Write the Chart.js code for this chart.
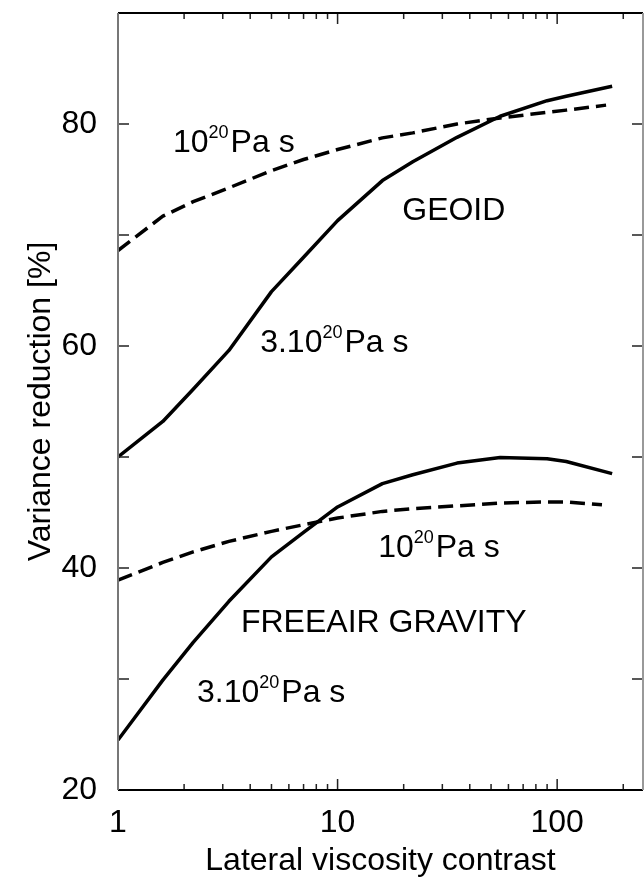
<!DOCTYPE html>
<html lang="en">
<head>
<meta charset="UTF-8" />
<title>Variance reduction vs lateral viscosity contrast</title>
<script src="https://cdn.jsdelivr.net/npm/chart.js"></script>
<style>
  html, body { margin: 0; padding: 0; background: #fff; }
  canvas { display: block; }
</style>
</head>
<body>
<canvas id="vrChart" width="644" height="877"></canvas>
<script>
// lateral viscosity contrast (x) and variance reduction in % (y), per model
const geoidStiffX = [1, 1.6, 2.2, 3.2, 5, 7, 10, 16, 22, 35, 55, 90, 110, 178];
const geoidStiffY = [50, 53.2, 56.1, 59.6, 64.9, 68.0, 71.3, 74.9, 76.6, 78.8, 80.7, 82.1, 82.5, 83.4];
const geoidSoftX = [1, 1.6, 2.2, 3.2, 5, 7, 10, 16, 22, 35, 55, 90, 110, 167];
const geoidSoftY = [68.6, 71.7, 73.0, 74.25, 75.8, 76.8, 77.7, 78.75, 79.2, 80.0, 80.55, 81.05, 81.25, 81.7];
const gravStiffX = [1, 1.6, 2.2, 3.2, 5, 7, 10, 16, 22, 35, 55, 90, 110, 178];
const gravStiffY = [24.5, 29.9, 33.3, 37.0, 41.0, 43.2, 45.5, 47.6, 48.4, 49.45, 49.95, 49.85, 49.6, 48.5];
const gravSoftX = [1, 1.6, 2.2, 3.2, 5, 7, 10, 16, 22, 35, 55, 90, 110, 160];
const gravSoftY = [38.9, 40.5, 41.45, 42.4, 43.3, 43.9, 44.5, 45.1, 45.35, 45.6, 45.85, 45.95, 45.95, 45.7];

const xTickValues = [1, 2, 3, 4, 5, 6, 7, 8, 9, 10, 20, 30, 40, 50, 60, 70, 80, 90, 100, 200];
const xTickLabels = [1, 10, 100];
const yTickLabels = [20, 40, 60, 80];

// text placed inside the plot, anchored in data units (left edge, baseline)
const notes = [
  { pre: "10", sup: "20", post: "Pa s", x: 1.78, y: 77.5 },
  { pre: "GEOID", x: 19.7, y: 71.35 },
  { pre: "3.10", sup: "20", post: "Pa s", x: 4.44, y: 59.46 },
  { pre: "10", sup: "20", post: "Pa s", x: 15.3, y: 41.0 },
  { pre: "FREEAIR GRAVITY", x: 3.63, y: 34.23 },
  { pre: "3.10", sup: "20", post: "Pa s", x: 2.29, y: 27.93 }
];

const FONT = '"Liberation Sans", Arial, Helvetica, sans-serif';
Chart.defaults.color = "#000";
Chart.defaults.font.family = FONT;

function pts(xs, ys) {
  return xs.map((x, i) => ({ x: x, y: ys[i] }));
}

function line(xs, ys, dashed) {
  return {
    data: pts(xs, ys),
    borderColor: "#000",
    borderWidth: 3.5,
    borderDash: dashed ? [15, 7] : [],
    borderJoinStyle: "round",
    pointRadius: 0,
    tension: 0,
    fill: false
  };
}

// frame, inward tick marks on all four sides, and the in-plot text
const framePlugin = {
  id: "frame",
  afterDraw(chart) {
    const ctx = chart.ctx;
    const a = chart.chartArea;
    const xs = chart.scales.x;
    const ys = chart.scales.y;
    ctx.save();

    ctx.strokeStyle = "#222";
    ctx.lineWidth = 1.5;
    xTickValues.forEach(v => {
      const px = xs.getPixelForValue(v);
      const len = xTickLabels.includes(v) ? 11 : 6;
      ctx.beginPath();
      ctx.moveTo(px, a.bottom); ctx.lineTo(px, a.bottom - len);
      ctx.moveTo(px, a.top); ctx.lineTo(px, a.top + len);
      ctx.stroke();
    });
    ys.ticks.forEach(t => {
      const py = ys.getPixelForValue(t.value);
      ctx.beginPath();
      ctx.moveTo(a.left, py); ctx.lineTo(a.left + 11, py);
      ctx.moveTo(a.right, py); ctx.lineTo(a.right - 11, py);
      ctx.stroke();
    });

    ctx.lineWidth = 2;
    ctx.strokeStyle = "#000";
    ctx.beginPath();
    ctx.moveTo(a.left, a.top); ctx.lineTo(a.right, a.top);
    ctx.moveTo(a.left, a.bottom); ctx.lineTo(a.right, a.bottom);
    ctx.stroke();
    ctx.strokeStyle = "#777";
    ctx.beginPath();
    ctx.moveTo(a.left, a.top); ctx.lineTo(a.left, a.bottom);
    ctx.stroke();
    ctx.strokeStyle = "#999";
    ctx.beginPath();
    ctx.moveTo(a.right, a.top); ctx.lineTo(a.right, a.bottom);
    ctx.stroke();

    ctx.fillStyle = "#000";
    ctx.textBaseline = "alphabetic";
    ctx.textAlign = "left";
    notes.forEach(n => {
      let px = xs.getPixelForValue(n.x);
      const py = ys.getPixelForValue(n.y);
      ctx.font = "32px " + FONT;
      ctx.fillText(n.pre, px, py);
      px += ctx.measureText(n.pre).width;
      if (n.sup) {
        ctx.font = "18px " + FONT;
        ctx.fillText(n.sup, px, py - 14);
        px += ctx.measureText(n.sup).width + 2;
        ctx.font = "32px " + FONT;
        ctx.fillText(n.post, px, py);
      }
    });
    ctx.restore();
  }
};

new Chart(document.getElementById("vrChart"), {
  type: "line",
  data: {
    datasets: [
      line(geoidStiffX, geoidStiffY, false),
      line(geoidSoftX, geoidSoftY, true),
      line(gravStiffX, gravStiffY, false),
      line(gravSoftX, gravSoftY, true)
    ]
  },
  options: {
    responsive: false,
    animation: false,
    devicePixelRatio: 1,
    layout: { padding: { top: 13, right: 1, left: 0, bottom: 0 } },
    plugins: { legend: { display: false }, tooltip: { enabled: false } },
    scales: {
      x: {
        type: "logarithmic",
        min: 1,
        max: 246,
        grid: { display: false, drawTicks: false },
        border: { display: false },
        afterBuildTicks: s => { s.ticks = xTickValues.map(v => ({ value: v })); },
        afterFit: s => {
          s.height = 87;
          s.paddingLeft = 0;
          s.paddingRight = 0;
        },
        ticks: {
          autoSkip: false,
          maxRotation: 0,
          padding: 14,
          font: { size: 32 },
          callback: v => (xTickLabels.includes(v) ? String(v) : "")
        },
        title: {
          display: true,
          text: "Lateral viscosity contrast",
          font: { size: 32 },
          padding: { top: 0, bottom: -3 }
        }
      },
      y: {
        min: 20,
        max: 90,
        grid: { display: false, drawTicks: false },
        border: { display: false },
        afterFit: s => {
          s.width = 118;
          s.paddingTop = 0;
          s.paddingBottom = 0;
        },
        ticks: {
          stepSize: 10,
          padding: 21,
          font: { size: 32 },
          callback: v => (yTickLabels.includes(v) ? String(v) : "")
        },
        title: {
          display: true,
          text: "Variance reduction [%]",
          font: { size: 32 },
          padding: { top: 22, bottom: 0 }
        }
      }
    }
  },
  plugins: [framePlugin]
});
</script>
</body>
</html>
